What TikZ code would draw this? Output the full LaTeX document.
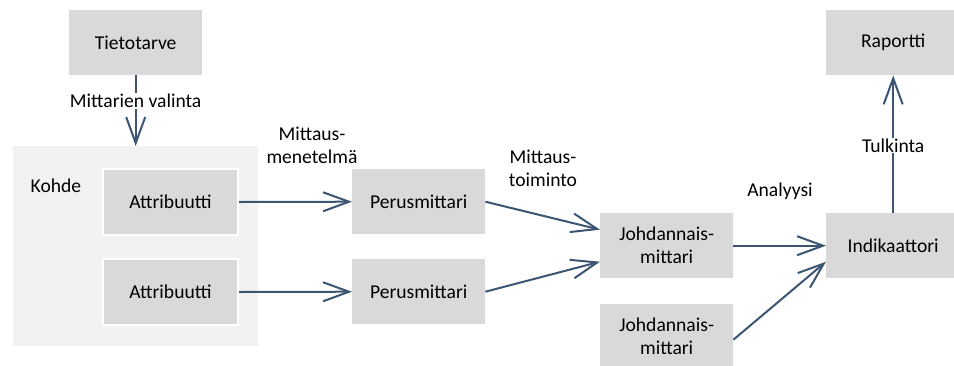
\documentclass[tikz,border=0pt]{standalone}
\usepackage{fontspec}
\setmainfont{Carlito}
\usetikzlibrary{arrows.meta}
\definecolor{boxgrey}{HTML}{D9D9D9}
\definecolor{groupgrey}{HTML}{F2F2F2}
\definecolor{flow}{HTML}{3B5573}
\begin{document}
\begin{tikzpicture}[x=1pt,y=-1pt,
  font=\fontsize{19.6}{23}\selectfont,
  box/.style={fill=boxgrey,minimum width=133pt,minimum height=65pt,inner sep=0pt,align=center,anchor=north west},
  attr/.style={box,draw=white,line width=2pt,minimum width=135pt,minimum height=66pt},
  link/.style={draw=flow,line width=2pt,-{Straight Barb[length=26pt,width=19pt,line width=2pt]}},
  lbl/.style={align=center,inner sep=1pt}]
  \clip (0,0) rectangle (954,365);
  \fill[white] (0,0) rectangle (954,365);

  % object group
  \node[fill=groupgrey,minimum width=245pt,minimum height=200pt,inner sep=0pt,anchor=north west] (kohde) at (13,146) {};
  \node[lbl] (kohdelbl) at (56,186) {Kohde};

  % boxes
  \node[box] (tieto) at (69,10) {Tietotarve};
  \node[attr] (attr1) at (102,168) {Attribuutti};
  \node[attr] (attr2) at (102,258) {Attribuutti};
  \node[box] (perus1) at (352,169) {Perusmittari};
  \node[box] (perus2) at (352,259) {Perusmittari};
  \node[box] (joh1) at (600,213) {Johdannais-\\mittari};
  \node[box] (joh2) at (600,304) {Johdannais-\\mittari};
  \node[box,minimum width=134pt] (indik) at (826,213) {Indikaattori};
  \node[box,minimum width=134pt] (raportti) at (826,10) {Raportti};

  % connectors
  \draw[link] (tieto.south) -- node[lbl,fill=white,pos=0.36] (valinta) {Mittarien valinta} (tieto.south |- kohde.north);
  \draw[link] (attr1.east) -- (perus1.west);
  \draw[link] (attr2.east) -- (perus2.west);
  \draw[link] (perus1.east) -- ([yshift=16pt]joh1.west);
  \draw[link] (perus2.east) -- ([yshift=-16pt]joh1.west);
  \draw[link] (joh1.east) -- (indik.west);
  \draw[link] ([yshift=-3pt]joh2.east) -- ([yshift=-16pt]indik.west);
  \draw[link] (indik.north) -- node[lbl,fill=white,pos=0.49] (tulkinta) {Tulkinta} (raportti.south);

  % step labels
  \node[lbl] (menetelma) at (312,145) {Mittaus-\\menetelmä};
  \node[lbl] (toiminto) at (543,168) {Mittaus-\\toiminto};
  \node[lbl] (analyysi) at (780,191) {Analyysi};
\end{tikzpicture}
\end{document}
